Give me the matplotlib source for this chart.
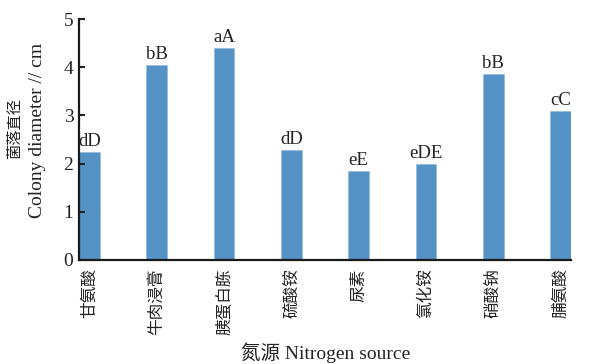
import numpy as np
from matplotlib import pyplot as plt

# 不同氮源下菌落直径
sources = ["甘氨酸", "牛肉浸膏", "胰蛋白胨", "硫酸铵", "尿素", "氯化铵", "硝酸钠", "脯氨酸"]
diameters = [2.25, 4.04, 4.39, 2.28, 1.85, 2.00, 3.86, 3.09]
letters = ["dD", "bB", "aA", "dD", "eE", "eDE", "bB", "cC"]
yticks = [0, 1, 2, 3, 4, 5]

fonts = ["Liberation Serif", "Noto Sans CJK SC", "DejaVu Sans"]
plt.rcParams["font.family"] = fonts

bar_color = "#5592c6"
width = 0.31

fig = plt.figure(figsize=(6.05, 3.64), dpi=100)
ax = fig.add_axes([79 / 605, 1 - 260 / 364, 492 / 605, 241 / 364])

x = np.arange(len(sources))
ax.bar(x, diameters, width=width, color=bar_color, edgecolor="#8fb6dc", linewidth=0.4)

# 显著性字母标在柱顶
for xi, v, s in zip(x, diameters, letters):
    ax.text(xi, v + 0.04, s, ha="center", va="bottom", fontsize=13.5,
            family="Liberation Serif", color="#222222")

ax.set_xlim(-width / 2, len(sources) - 1 + width / 2)
ax.set_ylim(0, 5)
ax.set_yticks(yticks)
ax.set_yticklabels([str(t) for t in yticks], fontsize=14, family="Liberation Serif")
ax.set_xticks(x)
ax.set_xticklabels(sources, rotation=90, fontsize=12, family=["Noto Sans CJK SC"],
                   va="top", ha="center")

ax.tick_params(axis="y", direction="in", length=4, width=1.5, pad=4, colors="#222222")
ax.tick_params(axis="x", length=0, pad=6, colors="#222222")

for side in ["top", "right"]:
    ax.spines[side].set_visible(False)
for side in ["left", "bottom"]:
    ax.spines[side].set_linewidth(1.6)
    ax.spines[side].set_color("#1a1a1a")

# 纵轴标题（中英两行）
fig.text(15 / 605, 1 - 128 / 364, "菌落直径", rotation=90, ha="center", va="center",
         fontsize=11, family=["Noto Sans CJK SC"], color="#222222")
fig.text(38 / 605, 1 - 130 / 364, "Colony diameter // cm", rotation=90, ha="center",
         va="center", fontsize=14, family=fonts, color="#222222")

# 横轴标题
fig.text(326 / 605, 1 - 353 / 364, "氮源 Nitrogen source", ha="center", va="center",
         fontsize=14, family=fonts, color="#222222")

fig.savefig("out.png", dpi=100, facecolor="white")
